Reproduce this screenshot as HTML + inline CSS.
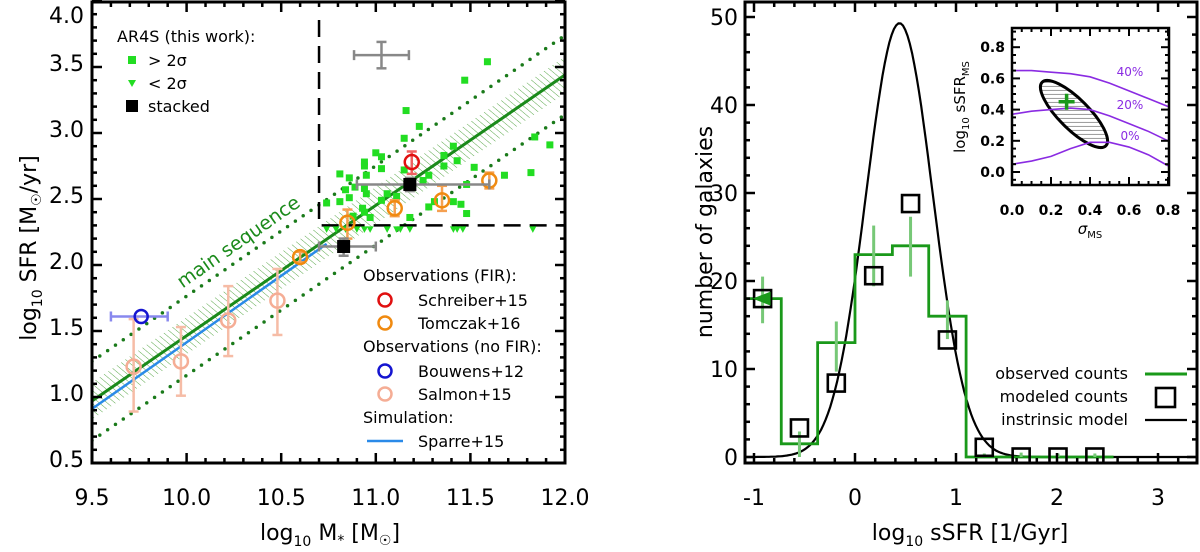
<!DOCTYPE html>
<html><head><meta charset="utf-8"><style>
html,body{margin:0;padding:0;background:#fff;}
svg{display:block;font-family:"DejaVu Sans","Liberation Sans",sans-serif;}
</style></head><body>
<svg id="fig" width="1200" height="552" viewBox="0 0 1200 552" xmlns="http://www.w3.org/2000/svg">
<defs>
<pattern id="hatchMS" patternUnits="userSpaceOnUse" width="5" height="5" patternTransform="rotate(-50)">
<line x1="0" y1="0" x2="0" y2="5" stroke="#5aa84a" stroke-width="1"/></pattern>
<pattern id="hatchEl" patternUnits="userSpaceOnUse" width="4" height="4" patternTransform="rotate(45)">
<line x1="0" y1="0" x2="0" y2="4" stroke="#555" stroke-width="1.2"/></pattern>
<clipPath id="clipL"><rect x="92" y="2" width="473" height="461"/></clipPath>
<clipPath id="clipR"><rect x="745" y="2" width="452" height="461"/></clipPath>
<clipPath id="clipI"><rect x="1012" y="28" width="157" height="157"/></clipPath>
</defs>
<g id="left"></g>
<g id="right"></g>
<g id="inset"></g>
</svg>
<script>
// ---------- Left panel data ----------
const msIntercept = 0.97;   // SFR at log M = 9.5
const msSlope = 0.988;
const sparreStart = [9.5, 0.91];
const sparreEnd = [10.74, 2.16];
const detX = [11.59,11.47,11.16,11.23,11.15,11.41,11.36,11.43,11.00,11.03,10.94,10.94,11.03,10.81,10.86,10.95,11.15,11.52,11.68,11.82,11.92,11.84,10.89,10.94,10.84,10.95,10.86,10.81,10.74,10.93,10.94,10.88,10.97,11.03,11.06,11.11,11.28,11.31,11.41,11.45,11.48,11.18,11.48,11.36,11.28,11.25];
const detY = [3.54,3.40,3.17,3.05,2.96,2.90,2.83,2.79,2.85,2.82,2.78,2.75,2.73,2.69,2.66,2.68,2.72,2.74,2.68,2.70,2.91,2.97,2.59,2.58,2.57,2.54,2.51,2.48,2.47,2.43,2.40,2.37,2.36,2.49,2.54,2.52,2.44,2.48,2.48,2.46,2.39,2.36,2.61,2.75,2.68,2.64];
const limX = [10.74,10.79,10.84,10.90,10.94,10.97,11.06,11.11,11.13,11.18,11.41,11.43,11.46,11.83];
const limY = [2.27,2.27,2.27,2.27,2.27,2.27,2.27,2.27,2.27,2.27,2.27,2.27,2.27,2.27];
const stackX = [11.18, 10.83];
const stackY = [2.61, 2.14];
const stackXlo = [10.90, 10.70];
const stackXhi = [11.60, 11.00];
const stackYlo = [2.56, 2.07];
const stackYhi = [2.66, 2.20];
const schX = [11.19], schY = [2.78], schLo = [2.69], schHi = [2.86];
const tomX = [11.60, 11.35, 11.10, 10.85, 10.60];
const tomY = [2.64, 2.49, 2.43, 2.32, 2.06];
const tomLo = [2.58, 2.41, 2.37, 2.20, 2.02];
const tomHi = [2.70, 2.60, 2.49, 2.42, 2.10];
const bouX = [9.76], bouY = [1.61], bouXlo = [9.60], bouXhi = [9.90];
const salX = [9.72, 9.97, 10.22, 10.48];
const salY = [1.23, 1.27, 1.58, 1.73];
const salLo = [0.89, 1.01, 1.31, 1.47];
const salHi = [1.59, 1.53, 1.84, 1.97];
const xTicksL = ["9.5","10.0","10.5","11.0","11.5","12.0"];
const yTicksL = ["0.5","1.0","1.5","2.0","2.5","3.0","3.5","4.0"];
// ---------- Right panel data ----------
const binEdges = [-1.1,-0.73,-0.37,0,0.37,0.73,1.1,1.46,1.83,2.19,2.56];
const obsCounts = [18,1.5,13,23,24,16,0,0,0,0];
const obsErrLo = [15.2,0,9.7,19.4,20.5,13.4,0,0,0,0];
const obsErrHi = [20.5,2.9,15.4,26.3,27.3,17.8,0.4,0.5,0.4,0.4];
const modCounts = [18,3.3,8.4,20.6,28.8,13.3,1.1,0,0,0];
const gaussPeak = 49.3, gaussMu = 0.44, gaussSigma = 0.33;
const xTicksR = ["-1","0","1","2","3"];
const yTicksR = ["0","10","20","30","40","50"];
// ---------- Inset data ----------
const contourLevels = ["40%","20%","0%"];
const c40x = [0,0.1,0.2,0.3,0.4,0.5,0.6,0.7,0.8], c40y = [0.65,0.65,0.64,0.63,0.61,0.57,0.52,0.47,0.42];
const c20x = [0,0.1,0.2,0.3,0.4,0.5,0.6,0.7,0.8], c20y = [0.37,0.39,0.40,0.41,0.40,0.36,0.31,0.26,0.20];
const c0x = [0,0.1,0.2,0.3,0.4,0.5,0.6,0.7,0.8], c0y = [0.05,0.07,0.10,0.15,0.19,0.19,0.16,0.11,0.04];
const bestFit = [0.28, 0.45];
const xTicksI = ["0.0","0.2","0.4","0.6","0.8"];
const yTicksI = ["0.0","0.2","0.4","0.6","0.8"];

const NS="http://www.w3.org/2000/svg";
function mk(parent,tag,attrs,text){const e=document.createElementNS(NS,tag);for(const k in attrs)e.setAttribute(k,attrs[k]);if(text!==undefined)e.textContent=text;parent.appendChild(e);return e;}

// ===== LEFT =====
const L=document.getElementById('left');
const lx=v=>92+189.2*(v-9.5), ly=v=>463-132*(v-0.5);
const lp=mk(L,'g',{'clip-path':'url(#clipL)'});
const msY=x=>msIntercept+msSlope*(x-9.5);
let band=mk(lp,'polygon',{points:`${lx(9.5)},${ly(msY(9.5)+0.14)} ${lx(12)},${ly(msY(12)+0.14)} ${lx(12)},${ly(msY(12)-0.14)} ${lx(9.5)},${ly(msY(9.5)-0.14)}`,fill:'url(#hatchMS)'});

let ms=mk(lp,'line',{x1:lx(9.5),y1:ly(msY(9.5)),x2:lx(12),y2:ly(msY(12)),stroke:'#1a8a1a','stroke-width':3});

[0.3,-0.3].forEach(o=>{let d=mk(lp,'line',{x1:lx(9.5),y1:ly(msY(9.5)+o),x2:lx(12),y2:ly(msY(12)+o),stroke:'#1a7a1a','stroke-width':3.5,'stroke-dasharray':'0 9.5','stroke-linecap':'round'});
});
let sp=mk(lp,'line',{x1:lx(sparreStart[0]),y1:ly(sparreStart[1]),x2:lx(sparreEnd[0]),y2:ly(sparreEnd[1]),stroke:'#2a8ae8','stroke-width':2.5});

let db=mk(lp,'path',{d:`M${lx(10.7)},20 L${lx(10.7)},${ly(2.3)} L565,${ly(2.3)}`,fill:'none',stroke:'#000','stroke-width':2.5,'stroke-dasharray':'17 9'});

for(let i=0;i<detX.length;i++){let r=mk(lp,'rect',{x:lx(detX[i])-3.5,y:ly(detY[i])-3.5,width:7,height:7,fill:'#22dd22'});
}
for(let i=0;i<limX.length;i++){const cx=lx(limX[i]),cy=ly(limY[i]);let t=mk(lp,'polygon',{points:`${cx-3.5},${cy-3} ${cx+3.5},${cy-3} ${cx},${cy+3.5}`,fill:'#22dd22'});
}
function errV(g,x,lo,hi,col,w){mk(g,'line',{x1:lx(x),y1:ly(lo),x2:lx(x),y2:ly(hi),stroke:col,'stroke-width':w});
mk(g,'line',{x1:lx(x)-5,y1:ly(lo),x2:lx(x)+5,y2:ly(lo),stroke:col,'stroke-width':w});mk(g,'line',{x1:lx(x)-5,y1:ly(hi),x2:lx(x)+5,y2:ly(hi),stroke:col,'stroke-width':w});}
function errH(g,y,lo,hi,col,w){mk(g,'line',{x1:lx(lo),y1:ly(y),x2:lx(hi),y2:ly(y),stroke:col,'stroke-width':w});
mk(g,'line',{x1:lx(lo),y1:ly(y)-5,x2:lx(lo),y2:ly(y)+5,stroke:col,'stroke-width':w});mk(g,'line',{x1:lx(hi),y1:ly(y)-5,x2:lx(hi),y2:ly(y)+5,stroke:col,'stroke-width':w});}
let ec=mk(lp,'g',{});
errH(ec,3.59,10.885,11.175,'#888',2.5);errV(ec,11.03,3.49,3.69,'#888',2.5);
for(let i=0;i<salX.length;i++){let g=mk(lp,'g',{});
errV(g,salX[i],salLo[i],salHi[i],'#f6bca6',2.5);mk(g,'circle',{cx:lx(salX[i]),cy:ly(salY[i]),r:7,fill:'none',stroke:'#f5ad95','stroke-width':2.5});}
for(let i=0;i<bouX.length;i++){let g=mk(lp,'g',{});
errH(g,bouY[i],bouXlo[i],bouXhi[i],'#8888ee',2.5);mk(g,'circle',{cx:lx(bouX[i]),cy:ly(bouY[i]),r:6.5,fill:'none',stroke:'#1515d0','stroke-width':2.5});}
for(let i=0;i<tomX.length;i++){let g=mk(lp,'g',{});
errV(g,tomX[i],tomLo[i],tomHi[i],'#f5a050',2.5);mk(g,'circle',{cx:lx(tomX[i]),cy:ly(tomY[i]),r:7,fill:'none',stroke:'#f08a10','stroke-width':2.5});}
for(let i=0;i<schX.length;i++){let g=mk(lp,'g',{});
errV(g,schX[i],schLo[i],schHi[i],'#f06060',2.5);mk(g,'circle',{cx:lx(schX[i]),cy:ly(schY[i]),r:7,fill:'none',stroke:'#e01010','stroke-width':2.5});}
for(let i=0;i<stackX.length;i++){let g=mk(lp,'g',{});
errH(g,stackY[i],stackXlo[i],stackXhi[i],'#888',2.5);errV(g,stackX[i],stackYlo[i],stackYhi[i],'#888',2.5);
mk(g,'rect',{x:lx(stackX[i])-6.5,y:ly(stackY[i])-6.5,width:13,height:13,fill:'#000'});}
let mst=mk(L,'text',{x:242,y:247,fill:'#1a8a1a','font-size':19,'text-anchor':'middle',transform:'rotate(-35 242 247)'},'main sequence');

let lg=mk(L,'g',{'font-size':16});
mk(lg,'text',{x:117,y:42},'AR4S (this work):');
mk(lg,'rect',{x:128,y:56,width:8,height:8,fill:'#22dd22'});
mk(lg,'text',{x:148,y:66},'> 2σ');
mk(lg,'polygon',{points:'128,80 136,80 132,87',fill:'#22dd22'});
mk(lg,'text',{x:148,y:89},'< 2σ');
mk(lg,'rect',{x:126,y:100,width:12,height:12,fill:'#000'});
mk(lg,'text',{x:148,y:112},'stacked');
let lg2=mk(L,'g',{'font-size':16});
mk(lg2,'text',{x:363,y:281},'Observations (FIR):');
mk(lg2,'circle',{cx:385,cy:300,r:6.5,fill:'none',stroke:'#e01010','stroke-width':2.5});mk(lg2,'text',{x:418,y:306},'Schreiber+15');
mk(lg2,'circle',{cx:385,cy:323,r:6.5,fill:'none',stroke:'#f08a10','stroke-width':2.5});mk(lg2,'text',{x:418,y:329},'Tomczak+16');
mk(lg2,'text',{x:363,y:352},'Observations (no FIR):');
mk(lg2,'circle',{cx:385,cy:371,r:6.5,fill:'none',stroke:'#1515d0','stroke-width':2.5});mk(lg2,'text',{x:418,y:377},'Bouwens+12');
mk(lg2,'circle',{cx:385,cy:394,r:6.5,fill:'none',stroke:'#f5ad95','stroke-width':2.5});mk(lg2,'text',{x:418,y:400},'Salmon+15');
mk(lg2,'text',{x:363,y:423},'Simulation:');
mk(lg2,'line',{x1:367,y1:441,x2:403,y2:441,stroke:'#2a8ae8','stroke-width':2.5});mk(lg2,'text',{x:418,y:447},'Sparre+15');
let fr=mk(L,'rect',{x:92,y:2,width:473,height:461,fill:'none',stroke:'#000','stroke-width':3});

for(let v=9.5;v<=12.001;v+=0.1){const big=Math.abs((v*2)-Math.round(v*2))<0.01;const len=big?10:5;
mk(L,'line',{x1:lx(v),y1:463,x2:lx(v),y2:463-len,stroke:'#000','stroke-width':2.5});mk(L,'line',{x1:lx(v),y1:2,x2:lx(v),y2:2+len,stroke:'#000','stroke-width':2.5});}
for(let v=0.5;v<=4.001;v+=0.1){const big=Math.abs((v*2)-Math.round(v*2))<0.01;const len=big?10:5;
mk(L,'line',{x1:92,y1:ly(v),x2:92+len,y2:ly(v),stroke:'#000','stroke-width':2.5});mk(L,'line',{x1:565,y1:ly(v),x2:565-len,y2:ly(v),stroke:'#000','stroke-width':2.5});}
xTicksL.forEach(t=>{let e=mk(L,'text',{x:lx(parseFloat(t)),y:505,'font-size':22,'text-anchor':'middle'},t);});
yTicksL.forEach(t=>{let yy=Math.max(ly(parseFloat(t))+4,23);let e=mk(L,'text',{x:84,y:yy,'font-size':22,'text-anchor':'end'},t);});
let xt=mk(L,'text',{x:330,y:540,'font-size':22,'text-anchor':'middle'});xt.innerHTML='log<tspan font-size="14" dy="6">10</tspan><tspan dy="-6"> M</tspan><tspan font-size="14" dy="5">*</tspan><tspan dy="-5"> [M</tspan><tspan font-size="14" dy="5">☉</tspan><tspan dy="-5">]</tspan>';

let yt=mk(L,'text',{x:0,y:0,'font-size':22,'text-anchor':'middle',transform:'translate(36 248) rotate(-90)'});yt.innerHTML='log<tspan font-size="14" dy="6">10</tspan><tspan dy="-6"> SFR [M</tspan><tspan font-size="14" dy="5">☉</tspan><tspan dy="-5">/yr]</tspan>';


// ===== RIGHT =====
const R=document.getElementById('right');
const rx=v=>855+101*v, ry=v=>457-8.8*v;
const rp=mk(R,'g',{'clip-path':'url(#clipR)'});
let gp='';for(let i=0;i<=200;i++){const x=-1.1+i*(4.5/200);const y=gaussPeak*Math.exp(-0.5*((x-gaussMu)/gaussSigma)**2);gp+=(i?'L':'M')+rx(x).toFixed(1)+','+ry(y).toFixed(1);}
let gl=mk(rp,'path',{d:gp,fill:'none',stroke:'#000','stroke-width':2.2});
let hp='';for(let i=0;i<obsCounts.length;i++){hp+=(i?'L':'M')+rx(binEdges[i])+','+ry(obsCounts[i])+'L'+rx(binEdges[i+1])+','+ry(obsCounts[i]);}
let hl=mk(rp,'path',{d:hp,fill:'none',stroke:'#1a991a','stroke-width':2.8});
for(let i=0;i<obsCounts.length;i++){const c=(binEdges[i]+binEdges[i+1])/2;
let e=mk(rp,'line',{x1:rx(c),y1:ry(obsErrLo[i]),x2:rx(c),y2:ry(obsErrHi[i]),stroke:'#77c877','stroke-width':3});}
for(let i=0;i<modCounts.length;i++){const c=(binEdges[i]+binEdges[i+1])/2;
let s=mk(rp,'rect',{x:rx(c)-8.5,y:ry(modCounts[i])-8.5,width:17,height:17,fill:'none',stroke:'#000','stroke-width':2.6});}
{const c=(binEdges[0]+binEdges[1])/2;let a=mk(rp,'polygon',{points:`${rx(c)-10},${ry(obsCounts[0])} ${rx(c)+8},${ry(obsCounts[0])-7} ${rx(c)+8},${ry(obsCounts[0])+7}`,fill:'#1a991a'});
}
let rg=mk(R,'g',{'font-size':16,'text-anchor':'end'});
mk(rg,'text',{x:1128,y:379},'observed counts');mk(rg,'line',{x1:1145,y1:374,x2:1187,y2:374,stroke:'#1a991a','stroke-width':3});
mk(rg,'text',{x:1128,y:402},'modeled counts');mk(rg,'rect',{x:1156,y:388,width:19,height:19,fill:'none',stroke:'#000','stroke-width':2.6});
mk(rg,'text',{x:1128,y:425},'instrinsic model');mk(rg,'line',{x1:1145,y1:420,x2:1187,y2:420,stroke:'#000','stroke-width':2.2});
let fr2=mk(R,'rect',{x:745,y:2,width:452,height:461,fill:'none',stroke:'#000','stroke-width':3});
for(let v=-1;v<=3.4;v+=0.2){const big=Math.abs(v-Math.round(v))<0.01;const len=big?10:5;
mk(R,'line',{x1:rx(v),y1:463,x2:rx(v),y2:463-len,stroke:'#000','stroke-width':2.5});mk(R,'line',{x1:rx(v),y1:2,x2:rx(v),y2:2+len,stroke:'#000','stroke-width':2.5});}
for(let v=0;v<=51;v+=2){const big=v%10===0;const len=big?10:5;
mk(R,'line',{x1:745,y1:ry(v),x2:745+len,y2:ry(v),stroke:'#000','stroke-width':2.5});mk(R,'line',{x1:1197,y1:ry(v),x2:1197-len,y2:ry(v),stroke:'#000','stroke-width':2.5});}
xTicksR.forEach(t=>{let e=mk(R,'text',{x:rx(parseFloat(t)),y:505,'font-size':22,'text-anchor':'middle'},t);});
yTicksR.forEach(t=>{let e=mk(R,'text',{x:738,y:ry(parseFloat(t))+8,'font-size':22,'text-anchor':'end'},t);});
let xt2=mk(R,'text',{x:970,y:540,'font-size':22,'text-anchor':'middle'});xt2.innerHTML='log<tspan font-size="14" dy="6">10</tspan><tspan dy="-6"> sSFR [1/Gyr]</tspan>';

let yt2=mk(R,'text',{x:0,y:0,'font-size':22,'text-anchor':'middle',transform:'translate(712 232) rotate(-90)'},'number of galaxies');


// ===== INSET =====
const I=document.getElementById('inset');
const ix=v=>1012+195*v, iy=v=>172-156*v;
mk(I,'rect',{x:1012,y:28,width:157,height:157,fill:'#fff'});
const ip=mk(I,'g',{'clip-path':'url(#clipI)'});
let el=mk(ip,'ellipse',{cx:1074,cy:114,rx:45,ry:15,transform:'rotate(45 1074 114)',fill:'url(#hatchEl)',stroke:'#000','stroke-width':3});

[[c40x,c40y],[c20x,c20y],[c0x,c0y]].forEach((c,k)=>{let d='';c[0].forEach((x,i)=>{d+=(i?'L':'M')+ix(x)+','+iy(c[1][i]);});
let p=mk(ip,'path',{d:d,fill:'none',stroke:'#8a2be2','stroke-width':1.6});});
let bf=mk(ip,'path',{d:`M${ix(bestFit[0])-8},${iy(bestFit[1])}h16M${ix(bestFit[0])},${iy(bestFit[1])-8}v16`,stroke:'#1a991a','stroke-width':3.5});

const lblY=[71,104,135];contourLevels.forEach((t,k)=>{let e=mk(I,'text',{x:1130,y:lblY[k]+5,'font-size':12,fill:'#8a2be2','text-anchor':'middle'},t);});
mk(I,'rect',{x:1012,y:28,width:157,height:157,fill:'none',stroke:'#000','stroke-width':2.5});
for(let v=0;v<=0.801;v+=0.05){const big=Math.abs(v*5-Math.round(v*5))<0.01;const len=big?8:4;
mk(I,'line',{x1:ix(v),y1:185,x2:ix(v),y2:185-len,stroke:'#000','stroke-width':2});mk(I,'line',{x1:ix(v),y1:28,x2:ix(v),y2:28+len,stroke:'#000','stroke-width':2});}
for(let v=-0.05;v<=0.92;v+=0.05){const big=Math.abs(v*5-Math.round(v*5))<0.01;const len=big?8:4;
mk(I,'line',{x1:1012,y1:iy(v),x2:1012+len,y2:iy(v),stroke:'#000','stroke-width':2});mk(I,'line',{x1:1169,y1:iy(v),x2:1169-len,y2:iy(v),stroke:'#000','stroke-width':2});}
xTicksI.forEach(t=>{let e=mk(I,'text',{x:ix(parseFloat(t)),y:215,'font-size':14,'font-weight':'bold','text-anchor':'middle'},t);});
yTicksI.forEach(t=>{let e=mk(I,'text',{x:1005,y:iy(parseFloat(t))+5,'font-size':14,'font-weight':'bold','text-anchor':'end'},t);});
let ixt=mk(I,'text',{x:1090,y:234,'font-size':15,'text-anchor':'middle'});ixt.innerHTML='<tspan font-style="italic">σ</tspan><tspan font-size="10" dy="4">MS</tspan>';

let iyt=mk(I,'text',{x:0,y:0,'font-size':15,'text-anchor':'middle',transform:'translate(965 107) rotate(-90)'});iyt.innerHTML='log<tspan font-size="10" dy="4">10</tspan><tspan dy="-4"> sSFR</tspan><tspan font-size="10" dy="4">MS</tspan>';

</script>
</body></html>
